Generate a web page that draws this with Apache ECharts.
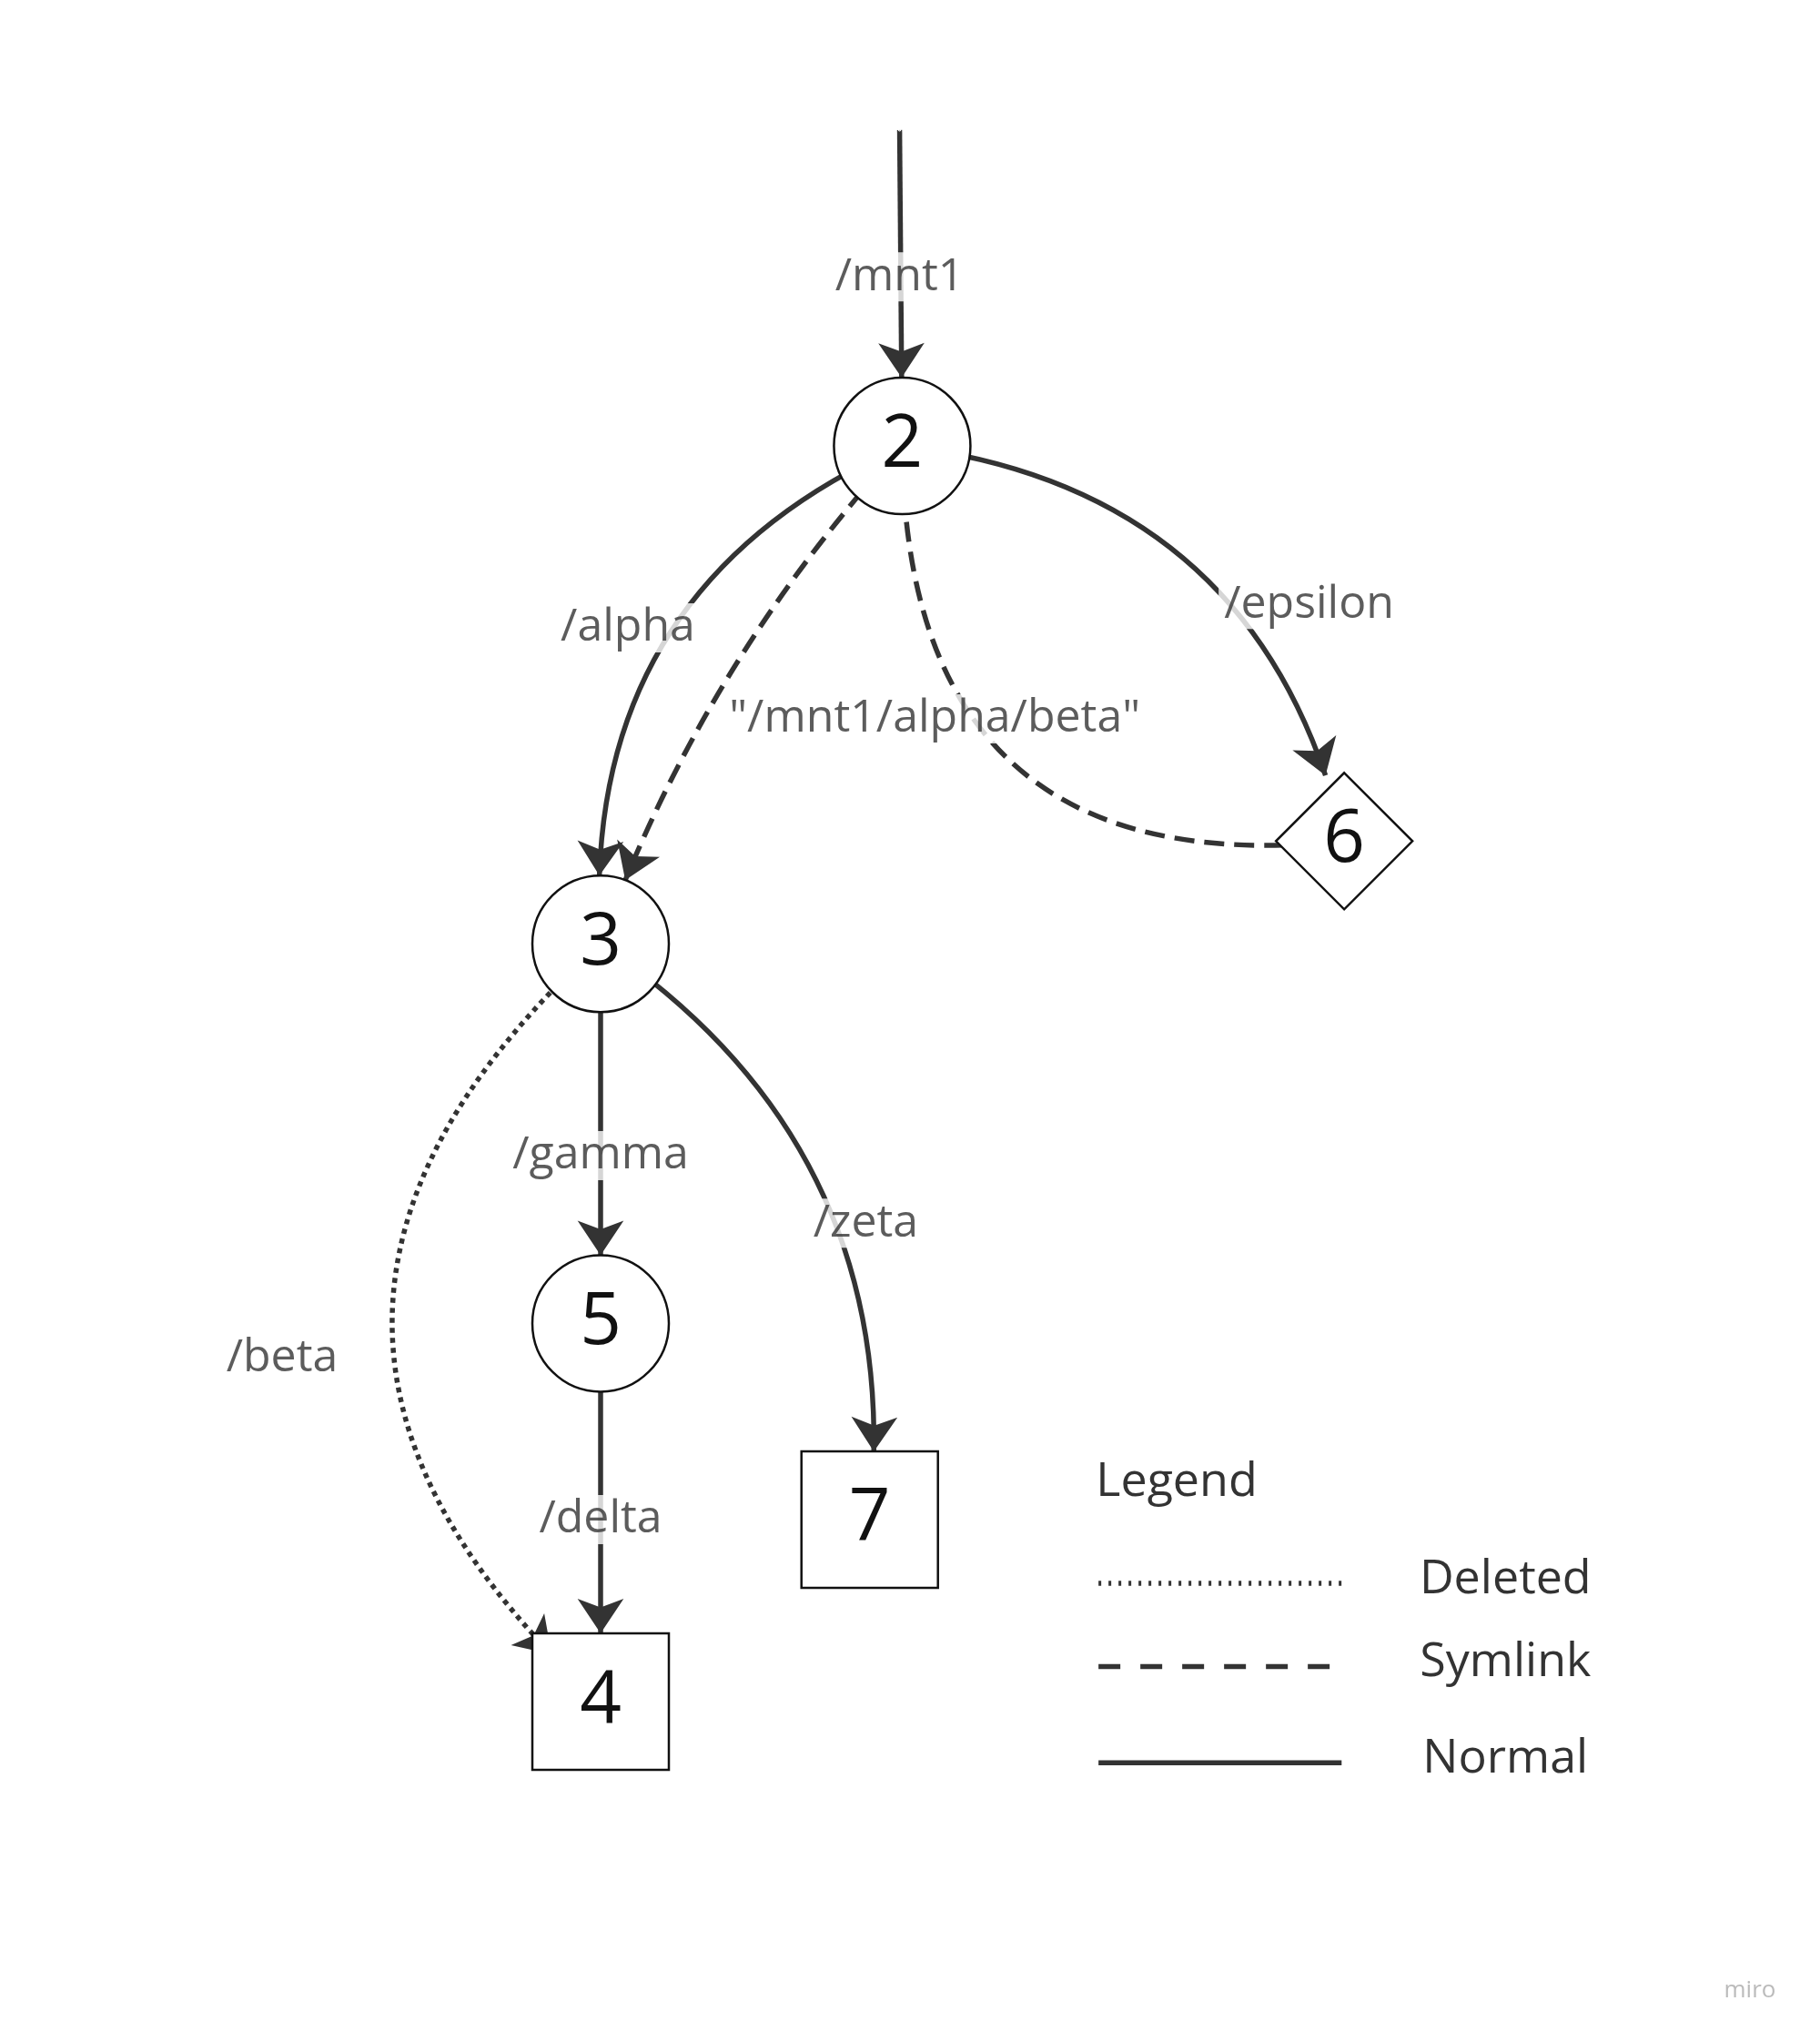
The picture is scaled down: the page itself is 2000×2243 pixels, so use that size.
<!DOCTYPE html>
<html><head><meta charset="utf-8">
<script src="https://cdn.jsdelivr.net/npm/echarts@6/dist/echarts.min.js"></script>
<style>html,body{margin:0;background:#fff}#main{width:2000px;height:2243px}</style>
</head><body><div id="main"></div>
<script>
// layout units: reference drawn on a 1400 x 1570 board
var S = 2000 / 1400;
var nodeNames = ["top", "2", "3", "5", "4", "7", "6"];
var nodeX = [692, 694, 462, 462, 462, 669, 1034];
var nodeY = [100, 343, 726, 1018, 1309, 1169, 647];
var nodeShape = ["none", "circle", "circle", "circle", "rect", "rect", "diamond"];

var edgeFrom = ["top", "2", "2", "2", "6", "3", "3", "3", "5"];
var edgeTo = ["2", "3", "6", "3", "2", "5", "7", "4", "4"];
var edgeKind = ["solid", "solid", "solid", "dashed", "dashed", "solid", "solid", "dotted", "solid"];
var edgeCurve = [0, -0.35, 0.35, -0.1, 0.55, 0, 0.3, -0.55, 0];
var edgeArrow = [true, true, true, true, false, true, true, true, true];

var labelText = ["/mnt1", "/alpha", "/epsilon", "\"/mnt1/alpha/beta\"", "/gamma", "/zeta", "/beta", "/delta"];
var labelX = [692, 483, 1007, 719, 462, 666, 217, 462];
var labelY = [213, 483, 465, 553, 889, 941, 1045, 1169];

var legendNames = ["Deleted", "Symlink", "Normal"];
var legendKinds = ["dotted", "dashed", "solid"];

var ink = "#333";
var chart = echarts.init(document.getElementById("main"));

var nodes = nodeNames.map(function (n, i) {
  var sz = nodeShape[i] == "none" ? 1 : 105 * S;
  return {
    name: n, value: [nodeX[i], nodeY[i]],
    symbol: nodeShape[i] == "none" ? "circle" : nodeShape[i],
    symbolSize: sz,
    itemStyle: { color: "#fff", borderColor: nodeShape[i] == "none" ? "#fff" : "#111", borderWidth: 2.5 },
    label: { show: n != "top", formatter: n, fontSize: 80, color: "#111", fontFamily: "Open Sans" }
  };
});
var links = edgeFrom.map(function (f, i) {
  return {
    source: f, target: edgeTo[i],
    symbol: ["none", edgeArrow[i] ? "arrow" : "none"],
    symbolSize: [0, 38],
    lineStyle: { type: edgeKind[i], curveness: edgeCurve[i], width: 5.5, color: ink, opacity: 1 }
  };
});

var graphic = [
  { type: "text", left: 843 * S, top: 1122 * S, style: { text: "Legend", fontSize: 52, fill: ink, fontFamily: "Open Sans" } },
  { type: "text", right: 34 * S, bottom: 30 * S, style: { text: "miro", fontSize: 26, fill: "#bbb", fontFamily: "Open Sans" } }
];
legendNames.forEach(function (n, i) {
  var y = [1218, 1282, 1356][i] * S;
  graphic.push({ type: "line", shape: { x1: 845 * S, y1: y, x2: 1032 * S, y2: y },
    style: { stroke: ink, lineWidth: 5.5, lineDash: legendKinds[i] == "dotted" ? [3, 8] : legendKinds[i] == "dashed" ? [24, 22] : null } });
  graphic.push({ type: "text", x: 1158 * S, y: y - 3 * S, style: { text: n, fontSize: 52, fill: ink, fontFamily: "Open Sans", align: "center", verticalAlign: "middle" } });
});

chart.setOption({
  animation: false,
  grid: { left: 0, right: 0, top: 0, bottom: 0 },
  xAxis: { type: "value", min: 0, max: 1400, show: false },
  yAxis: { type: "value", min: 0, max: 1570, inverse: true, show: false },
  graphic: graphic,
  series: [{
    type: "graph", coordinateSystem: "cartesian2d", layout: "none",
    data: nodes, links: links, z: 3
  }, {
    type: "scatter", symbolSize: 0, z: 5, silent: true,
    data: labelText.map(function (t, i) { return { value: [labelX[i], labelY[i]], name: t }; }),
    label: {
      show: true, position: "inside", formatter: "{b}", fontSize: 50, color: ink,
      fontFamily: "Open Sans", backgroundColor: "#fff", padding: [2, 6]
    }
  }]
});
</script></body></html>
